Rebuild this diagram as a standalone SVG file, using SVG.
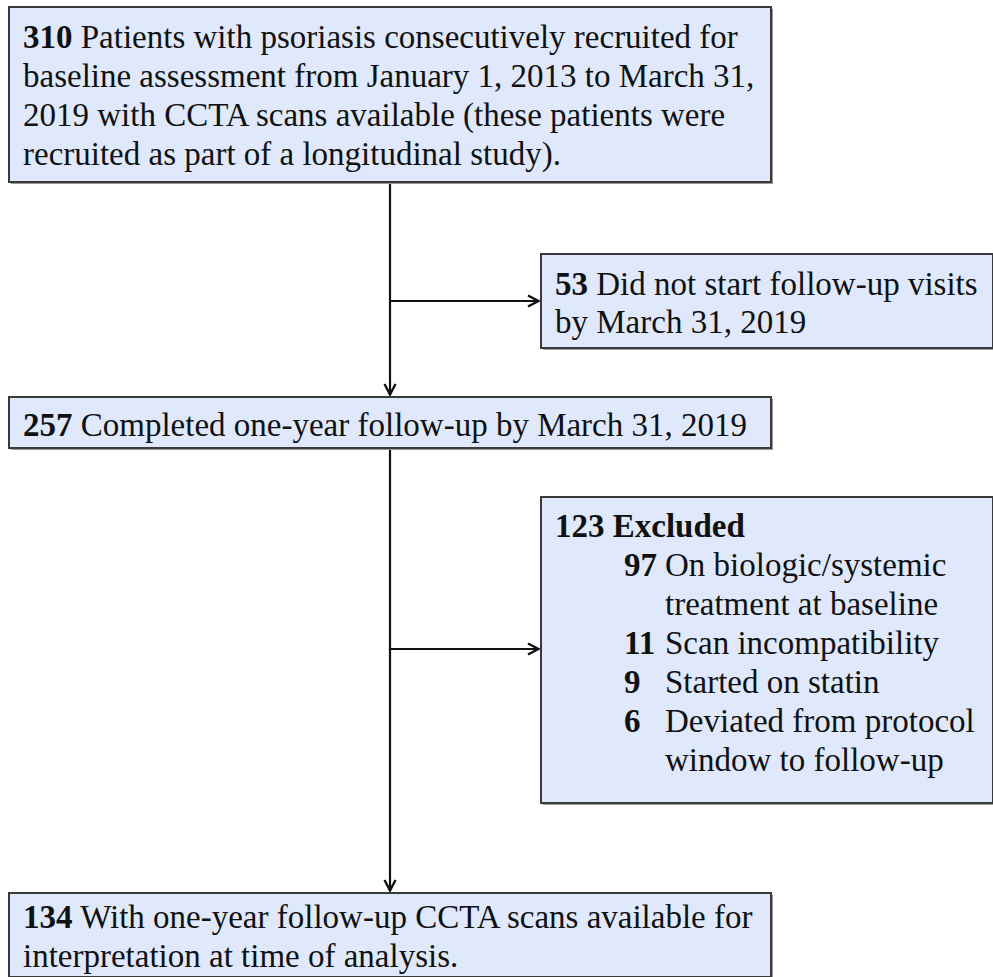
<svg xmlns="http://www.w3.org/2000/svg" width="993" height="977" viewBox="0 0 993 977">
<style>
.box{fill:#dfe9fb;stroke:#3a3a3a;stroke-width:2}
.sh{fill:#9a9a9a}
.t{font-family:"Liberation Serif","Times New Roman",serif;font-size:33px;fill:#111}
.b{font-weight:bold}
.c{stroke:#111;stroke-width:2.2;fill:none}
</style>
<defs>
<marker id="ah" viewBox="0 0 14 14" refX="13" refY="7" markerWidth="14" markerHeight="14" markerUnits="userSpaceOnUse" orient="auto">
<path d="M2,1.5 L12.5,7 L2,12.5" fill="none" stroke="#111" stroke-width="2.4"/>
</marker>
</defs>
<rect width="993" height="977" fill="#fff"/>
<g id="connectors">
<line class="c" x1="390" y1="182" x2="390" y2="395" marker-end="url(#ah)"/>
<line class="c" x1="390" y1="301" x2="539" y2="301" marker-end="url(#ah)"/>
<line class="c" x1="390" y1="448" x2="390" y2="891" marker-end="url(#ah)"/>
<line class="c" x1="390" y1="649" x2="539" y2="649" marker-end="url(#ah)"/>
</g>
<g id="n310">
<rect class="sh" x="11" y="9" width="762" height="175"/>
<rect class="box" x="9" y="7" width="762" height="175"/>
<text class="t" x="23" y="48"><tspan class="b">310</tspan> Patients with psoriasis consecutively recruited for</text>
<text class="t" x="23" y="87">baseline assessment from January 1, 2013 to March 31,</text>
<text class="t" x="23" y="126">2019 with CCTA scans available (these patients were</text>
<text class="t" x="23" y="165">recruited as part of a longitudinal study).</text>
</g>
<g id="n53">
<rect class="sh" x="543" y="256" width="452" height="94"/>
<rect class="box" x="541" y="254" width="452" height="94"/>
<text class="t" x="555" y="295"><tspan class="b">53</tspan> Did not start follow-up visits</text>
<text class="t" x="555" y="333">by March 31, 2019</text>
</g>
<g id="n257">
<rect class="sh" x="11" y="399" width="762" height="51"/>
<rect class="box" x="9" y="397" width="762" height="51"/>
<text class="t" x="23" y="436"><tspan class="b">257</tspan> Completed one-year follow-up by March 31, 2019</text>
</g>
<g id="n123">
<rect class="sh" x="543" y="499" width="452" height="306"/>
<rect class="box" x="541" y="497" width="452" height="306"/>
<text class="t b" x="555" y="537">123 Excluded</text>
<text class="t b" x="624" y="576">97</text>
<text class="t" x="665" y="576">On biologic/systemic</text>
<text class="t" x="665" y="615">treatment at baseline</text>
<text class="t b" x="624" y="654">11</text>
<text class="t" x="665" y="654">Scan incompatibility</text>
<text class="t b" x="624" y="693">9</text>
<text class="t" x="665" y="693">Started on statin</text>
<text class="t b" x="624" y="732">6</text>
<text class="t" x="665" y="732">Deviated from protocol</text>
<text class="t" x="665" y="771">window to follow-up</text>
</g>
<g id="n134">
<rect class="sh" x="11" y="895" width="762" height="84"/>
<rect class="box" x="9" y="893" width="762" height="84"/>
<text class="t" x="23" y="928"><tspan class="b">134</tspan> With one-year follow-up CCTA scans available for</text>
<text class="t" x="23" y="967">interpretation at time of analysis.</text>
</g>
</svg>
